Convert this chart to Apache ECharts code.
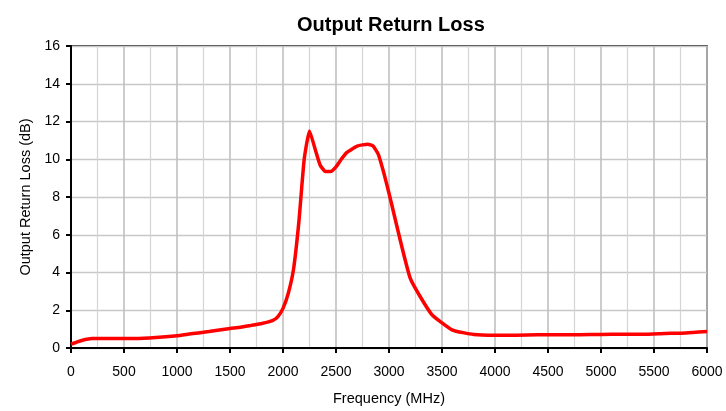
<!DOCTYPE html>
<html>
<head>
<meta charset="utf-8">
<script src="https://cdn.jsdelivr.net/npm/echarts@6/dist/echarts.min.js"></script>
<style>html,body{margin:0;padding:0;background:#fff;}#c{width:726px;height:411px;}</style>
</head>
<body>
<div id="c"></div>
<script>
var freq = [0, 50, 100, 200, 400, 600, 800, 1000, 1100, 1200, 1300, 1400, 1500, 1600, 1700, 1800, 1900, 1950, 2000, 2050, 2100, 2150, 2200, 2250, 2300, 2350, 2400, 2450, 2500, 2550, 2600, 2700, 2800, 2850, 2900, 2950, 3000, 3200, 3400, 3600, 3800, 4000, 4200, 4400, 4600, 4800, 5000, 5200, 5400, 5600, 5800, 6000];
var loss = [0.2, 0.3, 0.4, 0.5, 0.5, 0.5, 0.55, 0.65, 0.73, 0.8, 0.87, 0.95, 1.03, 1.1, 1.2, 1.3, 1.45, 1.65, 2.1, 2.9, 4.2, 6.7, 10.0, 11.5, 10.6, 9.7, 9.35, 9.35, 9.6, 10.0, 10.35, 10.7, 10.8, 10.7, 10.25, 9.3, 8.2, 3.7, 1.8, 0.95, 0.72, 0.68, 0.68, 0.7, 0.7, 0.7, 0.72, 0.73, 0.73, 0.77, 0.8, 0.88];
var xTicks = [0, 500, 1000, 1500, 2000, 2500, 3000, 3500, 4000, 4500, 5000, 5500, 6000];
var yTicks = [0, 2, 4, 6, 8, 10, 12, 14, 16];

var pts = freq.map(function (f, i) { return [f, loss[i]]; });
var chart = echarts.init(document.getElementById('c'), null, {renderer: 'canvas'});
var font = 'Liberation Sans, Arial, sans-serif';
chart.setOption({
  animation: false,
  backgroundColor: '#fff',
  title: {
    text: 'Output Return Loss',
    left: 292,
    top: 10,
    textStyle: {fontFamily: font, fontSize: 20, fontWeight: 'bold', color: '#000'}
  },
  grid: {
    left: 71, right: 19, top: 46, bottom: 61,
    show: true, borderColor: '#000', borderWidth: 1.5, backgroundColor: 'transparent'
  },
  xAxis: {
    type: 'value',
    min: xTicks[0], max: xTicks[xTicks.length - 1], interval: 500,
    name: 'Frequency (MHz)', nameLocation: 'middle', nameGap: 43,
    nameTextStyle: {fontFamily: font, fontSize: 14.5, color: '#000'},
    axisLine: {show: true, onZero: false, lineStyle: {color: '#000', width: 2}},
    axisTick: {show: true, length: 5, lineStyle: {color: '#000', width: 2}},
    axisLabel: {fontFamily: font, fontSize: 14, color: '#000', margin: 17, formatter: function (v) { return String(v); }},
    splitLine: {show: true, lineStyle: {color: '#c0c0c0', width: 1.6}},
    minorTick: {show: false, splitNumber: 2},
    minorSplitLine: {show: true, lineStyle: {color: '#d4d4d4', width: 1.2}}
  },
  yAxis: {
    type: 'value',
    min: yTicks[0], max: yTicks[yTicks.length - 1], interval: 2,
    name: 'Output Return Loss (dB)', nameLocation: 'middle', nameGap: 36,
    nameTextStyle: {fontFamily: font, fontSize: 14.5, color: '#000'},
    axisLine: {show: true, onZero: false, lineStyle: {color: '#000', width: 2}},
    axisTick: {show: true, length: 5, lineStyle: {color: '#000', width: 2}},
    axisLabel: {fontFamily: font, fontSize: 14, color: '#000', margin: 11, formatter: function (v) { return String(v); }},
    splitLine: {show: true, lineStyle: {color: '#c8c8c8', width: 1.4}}
  },
  series: [{
    type: 'line',
    data: pts,
    showSymbol: false,
    smooth: 0.15,
    lineStyle: {color: '#ff0000', width: 3.5},
    itemStyle: {color: '#ff0000'}
  }]
});
</script>
</body>
</html>
